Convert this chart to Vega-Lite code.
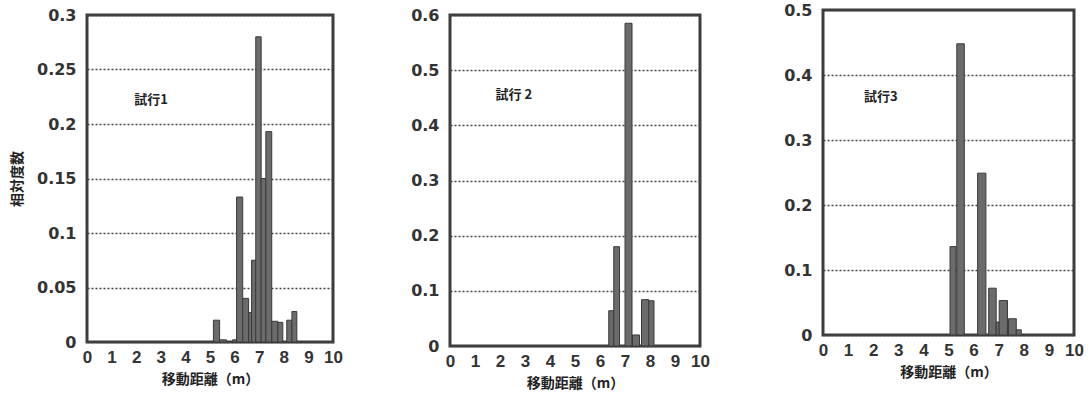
{
  "$schema": "https://vega.github.io/schema/vega-lite/v6.json",
  "padding": {"left": 9, "top": 0, "right": 5, "bottom": 5},
  "background": "white",
  "spacing": 71,
  "bounds": "full",
  "align": "none",
  "datasets": {
    "t1": [
      {"start": 5.14, "end": 5.39, "freq": 0.02},
      {"start": 5.39, "end": 5.67, "freq": 0.002},
      {"start": 5.92, "end": 6.08, "freq": 0.002},
      {"start": 6.08, "end": 6.33, "freq": 0.133},
      {"start": 6.33, "end": 6.57, "freq": 0.04},
      {"start": 6.57, "end": 6.69, "freq": 0.027},
      {"start": 6.69, "end": 6.86, "freq": 0.075},
      {"start": 6.86, "end": 7.08, "freq": 0.28},
      {"start": 7.08, "end": 7.27, "freq": 0.15},
      {"start": 7.27, "end": 7.51, "freq": 0.193},
      {"start": 7.51, "end": 7.76, "freq": 0.019},
      {"start": 7.76, "end": 7.96, "freq": 0.018},
      {"start": 8.12, "end": 8.33, "freq": 0.02},
      {"start": 8.33, "end": 8.53, "freq": 0.028}
    ],
    "t2": [
      {"start": 6.35, "end": 6.55, "freq": 0.064},
      {"start": 6.55, "end": 6.78, "freq": 0.18},
      {"start": 7.0, "end": 7.28, "freq": 0.585},
      {"start": 7.3, "end": 7.58, "freq": 0.02},
      {"start": 7.66, "end": 7.95, "freq": 0.084},
      {"start": 7.95, "end": 8.16, "freq": 0.082}
    ],
    "t3": [
      {"start": 5.06, "end": 5.3, "freq": 0.136},
      {"start": 5.33, "end": 5.63, "freq": 0.448},
      {"start": 6.16, "end": 6.49, "freq": 0.249},
      {"start": 6.6, "end": 6.9, "freq": 0.072},
      {"start": 6.9, "end": 7.02, "freq": 0.02},
      {"start": 7.02, "end": 7.35, "freq": 0.053},
      {"start": 7.35, "end": 7.39, "freq": 0.02},
      {"start": 7.39, "end": 7.7, "freq": 0.025},
      {"start": 7.7, "end": 7.9, "freq": 0.008}
    ]
  },
  "config": {
    "view": {"stroke": "#3d3d3d", "strokeWidth": 3},
    "axis": {
      "labelFont": "DejaVu Sans",
      "labelFontSize": 16,
      "labelFontWeight": "bold",
      "labelColor": "#333333",
      "labelOverlap": false,
      "labelFlush": false,
      "ticks": false,
      "domain": false,
      "titleFont": "Noto Sans CJK JP",
      "titleFontWeight": "bold",
      "titleFontSize": 14,
      "titleColor": "#222222"
    },
    "axisY": {"gridDash": [2, 2], "gridColor": "#444444", "gridWidth": 1.5, "gridOpacity": 1, "labelPadding": 11, "titlePadding": 12},
    "axisX": {"grid": false, "labelPadding": 7, "labelAngle": 0, "titlePadding": 7}
  },
  "hconcat": [
    {
      "spacing": -9,
      "vconcat": [
        {
          "width": 1,
          "height": 1,
          "view": {"stroke": null},
          "data": {"values": [{"label": ""}]},
          "mark": {"type": "point", "opacity": 0},
          "encoding": {}
        },
        {
          "spacing": 65,
          "hconcat": [
            {
              "width": 246,
              "height": 327,
              "layer": [
                {
                  "data": {"name": "t1"},
                  "mark": {"type": "bar", "fill": "#6b6b6b", "stroke": "#3a3a3a", "strokeWidth": 1},
                  "encoding": {
                    "x": {"field": "start", "type": "quantitative", "scale": {"domain": [0, 10], "nice": false},
                          "axis": {"values": [0,1,2,3,4,5,6,7,8,9,10], "tickCount": 11, "format": "d", "labelOverlap": false, "labelFlush": false, "labelFont": "Liberation Sans", "labelFontSize": 17, "title": "移動距離（m）"}},
                    "x2": {"field": "end"},
                    "y": {"field": "freq", "type": "quantitative", "scale": {"domain": [0, 0.3], "nice": false},
                          "axis": {"values": [0, 0.05, 0.1, 0.15, 0.2, 0.25, 0.3], "tickCount": 7, "format": "~g", "labelFlush": false, "title": "相対度数"}},
                    "y2": {"datum": 0}
                  }
                },
                {
                  "data": {"values": [{"label": "試行1"}]},
                  "mark": {"type": "text", "font": "Noto Sans CJK JP", "fontWeight": "bold", "fontSize": 13, "color": "#222222"},
                  "encoding": {
                    "x": {"datum": 2.6, "type": "quantitative"},
                    "y": {"datum": 0.222, "type": "quantitative"},
                    "text": {"field": "label"}
                  }
                }
              ]
            },
            {
              "width": 250,
              "height": 331,
              "layer": [
                {
                  "data": {"name": "t2"},
                  "mark": {"type": "bar", "fill": "#6b6b6b", "stroke": "#3a3a3a", "strokeWidth": 1},
                  "encoding": {
                    "x": {"field": "start", "type": "quantitative", "scale": {"domain": [0, 10], "nice": false},
                          "axis": {"values": [0,1,2,3,4,5,6,7,8,9,10], "tickCount": 11, "format": "d", "labelOverlap": false, "labelFlush": false, "labelFont": "Liberation Sans", "labelFontSize": 17, "title": "移動距離（m）"}},
                    "x2": {"field": "end"},
                    "y": {"field": "freq", "type": "quantitative", "scale": {"domain": [0, 0.6], "nice": false},
                          "axis": {"values": [0, 0.1, 0.2, 0.3, 0.4, 0.5, 0.6], "tickCount": 7, "format": "~g", "labelFlush": false, "title": null}},
                    "y2": {"datum": 0}
                  }
                },
                {
                  "data": {"values": [{"label": "試行 2"}]},
                  "mark": {"type": "text", "font": "Noto Sans CJK JP", "fontWeight": "bold", "fontSize": 13, "color": "#222222"},
                  "encoding": {
                    "x": {"datum": 2.55, "type": "quantitative"},
                    "y": {"datum": 0.455, "type": "quantitative"},
                    "text": {"field": "label"}
                  }
                }
              ]
            }
          ]
        }
      ]
    },
    {
      "width": 251,
      "height": 325,
      "layer": [
        {
          "data": {"name": "t3"},
          "mark": {"type": "bar", "fill": "#6b6b6b", "stroke": "#3a3a3a", "strokeWidth": 1},
          "encoding": {
            "x": {"field": "start", "type": "quantitative", "scale": {"domain": [0, 10], "nice": false},
                  "axis": {"values": [0,1,2,3,4,5,6,7,8,9,10], "tickCount": 11, "format": "d", "labelOverlap": false, "labelFlush": false, "labelFont": "Liberation Sans", "labelFontSize": 17, "title": "移動距離（m）"}},
            "x2": {"field": "end"},
            "y": {"field": "freq", "type": "quantitative", "scale": {"domain": [0, 0.5], "nice": false},
                  "axis": {"values": [0, 0.1, 0.2, 0.3, 0.4, 0.5], "tickCount": 6, "format": "~g", "labelFlush": false, "title": null}},
            "y2": {"datum": 0}
          }
        },
        {
          "data": {"values": [{"label": "試行3"}]},
          "mark": {"type": "text", "font": "Noto Sans CJK JP", "fontWeight": "bold", "fontSize": 13, "color": "#222222"},
          "encoding": {
            "x": {"datum": 2.3, "type": "quantitative"},
            "y": {"datum": 0.366, "type": "quantitative"},
            "text": {"field": "label"}
          }
        }
      ]
    }
  ]
}
